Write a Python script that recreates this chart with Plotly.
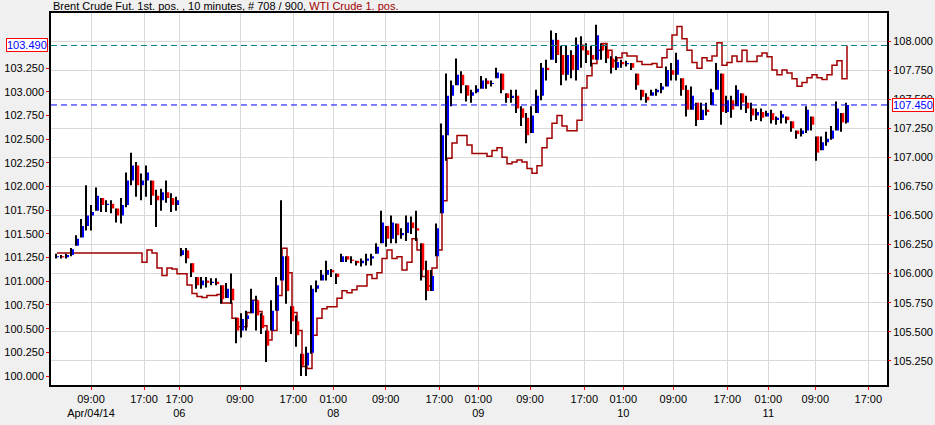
import plotly.graph_objects as go

# ---------------- data (10-minute bars, sampled) ----------------
brent_open = [
    106.14, 106.15, 106.14, 106.16, 106.24, 106.31, 106.41, 106.50, 106.54, 106.65,
    106.59, 106.60, 106.56, 106.50, 106.59, 106.80, 106.93, 106.76, 106.80, 106.80,
    106.67, 106.63, 106.70, 106.65, 106.59, 106.16, 106.20, 106.09, 105.97, 105.90,
    105.94, 105.92, 105.93, 105.90, 105.79, 105.87, 105.62, 105.51, 105.61, 105.66,
    105.77, 105.64, 105.51, 105.51, 105.68, 105.94, 106.15, 105.72, 105.59, 105.31,
    105.21, 105.32, 105.87, 105.94, 105.99, 106.03, 106.00, 106.10, 106.15, 106.12,
    106.11, 106.09, 106.11, 106.13, 106.17, 106.26, 106.41, 106.30, 106.43, 106.33,
    106.35, 106.44, 106.39, 106.26, 106.03, 105.85, 106.15, 106.52, 107.19, 107.53,
    107.62, 107.71, 107.62, 107.53, 107.56, 107.59, 107.66, 107.63, 107.68, 107.72,
    107.55, 107.51, 107.53, 107.42, 107.34, 107.21, 107.38, 107.53, 107.77, 107.84,
    108.01, 107.88, 107.71, 107.88, 107.75, 107.97, 107.92, 107.88, 107.84, 107.98,
    107.92, 107.85, 107.77, 107.82, 107.80, 107.81, 107.72, 107.58, 107.52, 107.53,
    107.56, 107.58, 107.61, 107.75, 107.71, 107.68, 107.58, 107.41, 107.47, 107.32,
    107.41, 107.45, 107.58, 107.72, 107.39, 107.49, 107.44, 107.55, 107.47, 107.42,
    107.36, 107.39, 107.35, 107.38, 107.32, 107.34, 107.35, 107.31, 107.23, 107.20,
    107.23, 107.35, 107.18, 107.06, 107.13, 107.16, 107.23, 107.38, 107.30,
]
brent_high = [
    106.17, 106.16, 106.17, 106.22, 106.33, 106.47, 106.76, 106.59, 106.74, 106.65,
    106.63, 106.63, 106.56, 106.65, 106.87, 107.04, 106.96, 106.86, 106.93, 106.80,
    106.72, 106.73, 106.80, 106.69, 106.66, 106.22, 106.22, 106.09, 105.97, 105.97,
    105.97, 105.96, 105.96, 105.90, 105.92, 106.00, 105.62, 105.66, 105.68, 105.87,
    105.81, 105.66, 105.51, 105.77, 105.97, 106.63, 106.15, 105.72, 105.64, 105.31,
    105.37, 105.90, 105.94, 106.03, 106.11, 106.04, 106.00, 106.17, 106.15, 106.15,
    106.11, 106.13, 106.17, 106.17, 106.26, 106.54, 106.41, 106.50, 106.43, 106.39,
    106.50, 106.49, 106.54, 106.26, 106.11, 106.03, 106.43, 107.29, 107.72, 107.66,
    107.85, 107.74, 107.62, 107.58, 107.62, 107.70, 107.68, 107.66, 107.77, 107.72,
    107.55, 107.58, 107.58, 107.44, 107.38, 107.44, 107.58, 107.81, 107.84, 108.09,
    108.07, 107.96, 107.96, 107.92, 108.03, 108.04, 107.98, 107.96, 108.14, 107.98,
    107.97, 107.87, 107.87, 107.84, 107.83, 107.81, 107.72, 107.58, 107.55, 107.58,
    107.59, 107.64, 107.78, 107.81, 107.90, 107.68, 107.62, 107.61, 107.47, 107.47,
    107.47, 107.59, 107.81, 107.72, 107.53, 107.53, 107.62, 107.55, 107.53, 107.47,
    107.42, 107.42, 107.40, 107.41, 107.35, 107.40, 107.35, 107.31, 107.23, 107.25,
    107.44, 107.35, 107.18, 107.18, 107.22, 107.27, 107.48, 107.38, 107.47,
]
brent_low = [
    106.13, 106.13, 106.13, 106.15, 106.24, 106.31, 106.37, 106.37, 106.54, 106.53,
    106.53, 106.52, 106.44, 106.43, 106.57, 106.76, 106.66, 106.63, 106.66, 106.59,
    106.40, 106.54, 106.61, 106.53, 106.54, 106.15, 106.09, 105.97, 105.87, 105.87,
    105.88, 105.90, 105.90, 105.74, 105.79, 105.74, 105.40, 105.45, 105.51, 105.66,
    105.51, 105.48, 105.24, 105.51, 105.68, 105.94, 105.74, 105.48, 105.37, 105.12,
    105.12, 105.31, 105.84, 105.94, 105.94, 105.97, 105.91, 106.10, 106.10, 106.09,
    106.07, 106.06, 106.07, 106.07, 106.17, 106.26, 106.23, 106.26, 106.26, 106.30,
    106.28, 106.34, 106.28, 105.94, 105.77, 105.85, 106.15, 106.52, 106.97, 107.44,
    107.62, 107.55, 107.48, 107.47, 107.55, 107.59, 107.59, 107.61, 107.68, 107.55,
    107.47, 107.47, 107.38, 107.27, 107.12, 107.21, 107.38, 107.49, 107.66, 107.84,
    107.81, 107.62, 107.66, 107.68, 107.66, 107.77, 107.81, 107.78, 107.84, 107.84,
    107.81, 107.72, 107.75, 107.77, 107.78, 107.75, 107.58, 107.49, 107.47, 107.53,
    107.53, 107.55, 107.61, 107.66, 107.66, 107.53, 107.35, 107.41, 107.27, 107.32,
    107.36, 107.45, 107.58, 107.28, 107.38, 107.34, 107.44, 107.41, 107.38, 107.31,
    107.32, 107.31, 107.35, 107.29, 107.28, 107.29, 107.29, 107.22, 107.16, 107.18,
    107.21, 107.23, 106.97, 107.06, 107.10, 107.15, 107.23, 107.22, 107.29,
]
brent_close = [
    106.15, 106.14, 106.16, 106.21, 106.30, 106.41, 106.50, 106.53, 106.67, 106.59,
    106.60, 106.56, 106.50, 106.59, 106.80, 106.93, 106.76, 106.80, 106.87, 106.67,
    106.63, 106.70, 106.65, 106.59, 106.63, 106.20, 106.13, 106.01, 105.90, 105.94,
    105.92, 105.93, 105.91, 105.78, 105.87, 105.77, 105.51, 105.61, 105.64, 105.77,
    105.64, 105.53, 105.38, 105.68, 105.90, 106.15, 105.85, 105.59, 105.47, 105.21,
    105.32, 105.87, 105.90, 105.99, 106.03, 106.01, 105.97, 106.15, 106.12, 106.11,
    106.09, 106.11, 106.13, 106.15, 106.23, 106.44, 106.30, 106.44, 106.33, 106.35,
    106.44, 106.39, 106.37, 106.03, 105.85, 105.98, 106.39, 107.19, 107.53, 107.62,
    107.71, 107.62, 107.53, 107.56, 107.59, 107.66, 107.63, 107.64, 107.73, 107.58,
    107.51, 107.53, 107.42, 107.34, 107.19, 107.36, 107.53, 107.77, 107.75, 108.01,
    107.88, 107.71, 107.88, 107.75, 107.97, 107.92, 107.88, 107.84, 108.05, 107.92,
    107.85, 107.77, 107.82, 107.80, 107.81, 107.77, 107.62, 107.52, 107.49, 107.56,
    107.58, 107.61, 107.75, 107.71, 107.84, 107.58, 107.41, 107.53, 107.32, 107.41,
    107.39, 107.56, 107.75, 107.39, 107.49, 107.41, 107.58, 107.47, 107.42, 107.36,
    107.39, 107.34, 107.38, 107.32, 107.34, 107.37, 107.32, 107.25, 107.20, 107.23,
    107.41, 107.28, 107.04, 107.13, 107.16, 107.23, 107.42, 107.30, 107.45,
]
wti_close = [
    101.30, 101.30, 101.30, 101.30, 101.30, 101.30, 101.30, 101.30, 101.30, 101.30,
    101.30, 101.30, 101.30, 101.30, 101.30, 101.30, 101.30, 101.20, 101.33, 101.30,
    101.14, 101.06, 101.14, 101.13, 101.08, 101.08, 100.96, 100.87, 100.84, 100.83,
    100.85, 100.85, 100.86, 100.77, 100.77, 100.61, 100.52, 100.52, 100.67, 100.80,
    100.68, 100.53, 100.38, 100.48, 100.85, 101.35, 101.09, 100.67, 100.48, 100.10,
    100.08, 100.43, 100.61, 100.71, 100.73, 100.73, 100.82, 100.90, 100.88, 100.91,
    100.95, 100.95, 101.07, 101.03, 101.09, 101.24, 101.33, 101.24, 101.26, 101.12,
    101.20, 101.45, 101.33, 101.05, 100.95, 101.14, 101.33, 101.85, 102.30, 102.46,
    102.54, 102.54, 102.44, 102.35, 102.35, 102.35, 102.32, 102.38, 102.41, 102.31,
    102.24, 102.26, 102.28, 102.26, 102.19, 102.14, 102.22, 102.41, 102.51, 102.67,
    102.75, 102.64, 102.59, 102.59, 102.70, 103.04, 103.17, 103.30, 103.44, 103.51,
    103.44, 103.33, 103.36, 103.41, 103.38, 103.38, 103.32, 103.29, 103.29, 103.30,
    103.26, 103.36, 103.45, 103.60, 103.69, 103.56, 103.44, 103.31, 103.25, 103.36,
    103.33, 103.38, 103.52, 103.28, 103.31, 103.38, 103.32, 103.44, 103.32, 103.32,
    103.38, 103.41, 103.37, 103.23, 103.18, 103.23, 103.20, 103.14, 103.06, 103.10,
    103.15, 103.18, 103.15, 103.13, 103.18, 103.28, 103.33, 103.14, 103.49,
]
brent_last = 107.45
wti_last = 103.49

# time-axis labels (bar index at which each time falls)
x_tick_idx = [6.8, 17.4, 24.46, 36.6, 47.26, 55.26, 65.74, 76.46, 84.26,
              94.6, 105.46, 113.26, 123.26, 134.06, 142.26, 151.66, 162.26]
x_tick_text = ["09:00<br>Apr/04/14", "17:00", "17:00<br>06", "09:00", "17:00",
               "01:00<br>08", "09:00", "17:00", "01:00<br>09", "09:00", "17:00",
               "01:00<br>10", "09:00", "17:00", "01:00<br>11", "09:00", "17:00"]
wti_ticks = [100.0, 100.25, 100.5, 100.75, 101.0, 101.25, 101.5, 101.75,
             102.0, 102.25, 102.5, 102.75, 103.0, 103.25]
brent_ticks = [105.25, 105.5, 105.75, 106.0, 106.25, 106.5, 106.75, 107.0,
               107.25, 107.5, 107.75, 108.0]

# ---------------- figure ----------------
n = len(brent_close)
idx = list(range(n))

wick_x, wick_y = [], []
up_x, up_y, dn_x, dn_y = [], [], [], []
for i in idx:
    wick_x += [i - 0.2, i - 0.2, None]
    wick_y += [brent_low[i], brent_high[i], None]
    if brent_close[i] >= brent_open[i]:
        up_x += [i + 0.2, i + 0.2, None]
        up_y += [brent_open[i], brent_close[i], None]
    else:
        dn_x += [i + 0.2, i + 0.2, None]
        dn_y += [brent_open[i], brent_close[i], None]

FONT = "Liberation Sans, Arial, sans-serif"
fig = go.Figure()
fig.add_trace(go.Scatter(x=idx, y=wti_close, mode="lines", line=dict(color="#A00000", width=1.5, shape="hv"),
                         yaxis="y", hoverinfo="skip"))
fig.add_trace(go.Scatter(x=wick_x, y=wick_y, mode="lines", line=dict(color="#000000", width=2),
                         yaxis="y2", hoverinfo="skip"))
fig.add_trace(go.Scatter(x=up_x, y=up_y, mode="lines", line=dict(color="#0000FF", width=2),
                         yaxis="y2", hoverinfo="skip"))
fig.add_trace(go.Scatter(x=dn_x, y=dn_y, mode="lines", line=dict(color="#FF0000", width=2.5),
                         yaxis="y2", hoverinfo="skip"))

fig.update_layout(
    width=935, height=425,
    margin=dict(l=51, r=48, t=13, b=40, autoexpand=False),
    paper_bgcolor="#F0F0F0", plot_bgcolor="#FFFFFF",
    showlegend=False,
    font=dict(family=FONT, size=11, color="#000000"),
    xaxis=dict(range=[-1.2, 166], tickvals=x_tick_idx, ticktext=x_tick_text, automargin=False,
               showgrid=True, gridcolor="#D9D9D9", gridwidth=1, zeroline=False,
               showline=True, linecolor="#000000", linewidth=1.5, mirror=True,
               ticks="outside", ticklen=3, tickcolor="#FF0000", tickfont=dict(size=11)),
    yaxis=dict(range=[99.905, 103.833], tickvals=wti_ticks, ticktext=[f"{v:.3f}" for v in wti_ticks],
               automargin=False, showgrid=False, zeroline=False, showline=True, linecolor="#000000",
               linewidth=1.5, mirror=True, ticks="outside", ticklen=3, tickcolor="#FF0000",
               tickfont=dict(size=11)),
    yaxis2=dict(range=[105.042, 108.241], overlaying="y", side="right", tickvals=brent_ticks,
                ticktext=[f"{v:.3f}" for v in brent_ticks], automargin=False, showgrid=True,
                gridcolor="#D9D9D9", gridwidth=1, zeroline=False, showline=False, ticks="outside",
                ticklen=3, tickcolor="#FF0000", tickfont=dict(size=11)),
)

fig.add_shape(type="line", xref="paper", x0=0, x1=1, yref="y", y0=wti_last, y1=wti_last,
              line=dict(color="#008080", width=1, dash="6px,4px"))
fig.add_shape(type="line", xref="paper", x0=0, x1=1, yref="y2", y0=brent_last, y1=brent_last,
              line=dict(color="#0000FF", width=1, dash="6px,4px"))

fig.add_annotation(xref="paper", x=-0.0036, xanchor="right", yref="y", y=wti_last, yanchor="middle",
                   text=f"{wti_last:.3f}", showarrow=False, font=dict(color="#0000FF", size=11),
                   bgcolor="#FFFFFF", bordercolor="#FF0000", borderwidth=1, borderpad=0)
fig.add_annotation(xref="paper", x=1.006, xanchor="left", yref="y2", y=brent_last, yanchor="middle",
                   text=f"{brent_last:.3f}", showarrow=False, font=dict(color="#0000FF", size=11),
                   bgcolor="#FFFFFF", bordercolor="#FF0000", borderwidth=1, borderpad=0)

fig.add_annotation(xref="paper", x=0, xanchor="left", yref="paper", y=1.019, yanchor="middle",
                   showarrow=False, font=dict(size=11),
                   text="Brent Crude Fut. 1st. pos. , 10 minutes, # 708 / 900, "
                        "<span style='color:#A00000'>WTI Crude 1. pos.</span>")

fig.write_html("out.html", config={"displayModeBar": False},
               post_script="document.body.style.margin='0';document.body.style.background='#F0F0F0';")
